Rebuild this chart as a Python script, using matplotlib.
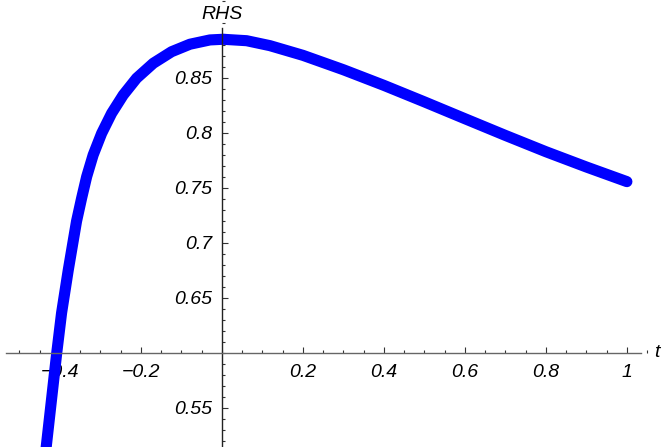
import matplotlib
matplotlib.use("Agg")
import matplotlib.pyplot as plt
from matplotlib.ticker import FixedLocator, MultipleLocator

# values
t = [-0.45, -0.434, -0.408, -0.396, -0.3795, -0.359, -0.3465, -0.334,
     -0.318, -0.297, -0.2724, -0.2436, -0.2107, -0.1695, -0.1243, -0.079,
     -0.0296, 0.003, 0.061, 0.1185, 0.2, 0.3, 0.4, 0.5, 0.6, 0.7, 0.8,
     0.9, 1.0]
rhs = [0.46, 0.514, 0.5995, 0.636, 0.675, 0.7195, 0.7404, 0.760,
       0.7797, 0.7994, 0.8176, 0.8343, 0.8495, 0.8631, 0.8736, 0.8804,
       0.8843, 0.8849, 0.8836, 0.8791, 0.8703, 0.8572, 0.8430, 0.8280,
       0.8127, 0.7975, 0.7827, 0.7688, 0.7555]

xticks = [-0.4, -0.2, 0.2, 0.4, 0.6, 0.8, 1.0]
xlabels = ["\u22120.4", "\u22120.2", "0.2", "0.4", "0.6", "0.8", "1"]
yticks = [0.55, 0.65, 0.7, 0.75, 0.8, 0.85]
ylabels = ["0.55", "0.65", "0.7", "0.75", "0.8", "0.85"]

plt.rcParams["font.family"] = ["Liberation Sans", "DejaVu Sans"]
plt.rcParams["font.style"] = "italic"

fig = plt.figure(figsize=(6.67, 4.47), dpi=100)
ax = fig.add_axes([0, 0, 1, 1])
ax.set_xlim(-0.548, 1.099)
ax.set_ylim(0.5143, 0.9206)

ax.plot(t, rhs, color="#0000ff", linewidth=8, solid_capstyle="round",
        solid_joinstyle="round")

# axes through the origin of the plot
ax.spines["left"].set_position(("data", 0))
ax.spines["bottom"].set_position(("data", 0.6))
ax.spines["top"].set_visible(False)
ax.spines["right"].set_visible(False)
ax.spines["bottom"].set_bounds(-0.533, 1.035)
ax.spines["left"].set_bounds(0.5143, 0.895)
ax.spines["left"].set_color("#222222")
ax.spines["bottom"].set_color("#666666")
for s in ["left", "bottom"]:
    ax.spines[s].set_linewidth(1.0)

ax.xaxis.set_major_locator(FixedLocator(xticks))
ax.set_xticklabels(xlabels)
ax.xaxis.set_minor_locator(MultipleLocator(0.05))
ax.yaxis.set_major_locator(FixedLocator(yticks))
ax.set_yticklabels(ylabels)
ax.yaxis.set_minor_locator(MultipleLocator(0.01))

ax.tick_params(which="both", direction="in", color="#333333", width=0.8)
ax.tick_params(which="major", length=4, labelsize=14)
ax.tick_params(which="minor", length=2.2)
ax.tick_params(axis="x", which="major", pad=8)
ax.tick_params(axis="y", which="major", pad=7)

# axis labels at the ends of the axes
ax.text(0.0, 0.907, "RHS", fontsize=14, ha="center", va="center")
ax.text(1.075, 0.6, "t", fontsize=14, ha="center", va="center")

fig.savefig("out.png", dpi=100)
